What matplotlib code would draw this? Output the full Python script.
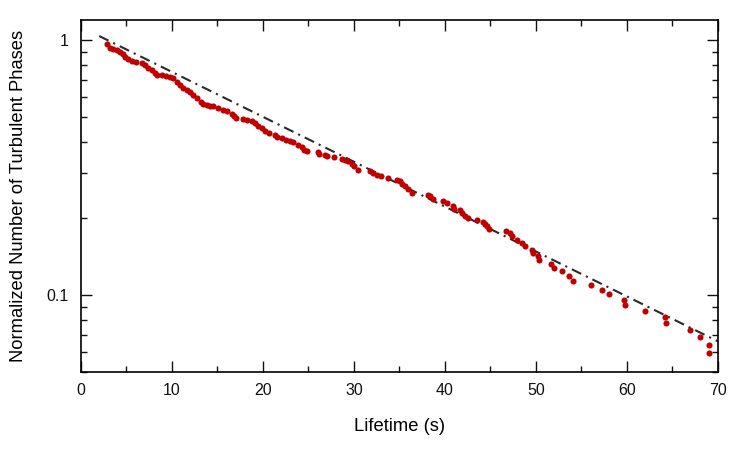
import matplotlib
matplotlib.use("Agg")
import matplotlib.pyplot as plt
import numpy as np
from matplotlib.ticker import LogLocator, FixedLocator, NullFormatter, FuncFormatter

plt.rcParams['font.family'] = ['Liberation Sans', 'DejaVu Sans']

# lifetimes (s) and normalized number of turbulent phases
lifetime = [2.82, 3.19, 3.55, 3.92, 4.29, 4.65, 4.84, 5.20, 5.57, 6.01,
            6.67, 7.03, 7.40, 7.77, 8.13, 8.32, 8.87, 9.31, 9.78, 10.14,
            10.52, 10.88, 11.24, 11.62, 11.98, 12.34, 12.71, 13.19, 13.44, 13.81,
            14.18, 14.54, 15.09, 15.64, 16.01, 16.56, 16.85, 17.00, 17.84, 18.21,
            18.76, 19.12, 19.48, 19.86, 20.22, 20.66, 21.32, 21.51, 22.05, 22.49,
            22.97, 23.33, 23.81, 24.25, 24.54, 24.80, 26.08, 26.15, 26.81, 27.00,
            27.84, 28.65, 29.01, 29.37, 29.75, 30.03, 30.47, 31.76, 32.12, 32.49,
            32.97, 33.77, 34.69, 35.05, 35.31, 35.60, 35.97, 36.34, 38.16, 38.35,
            38.71, 39.75, 40.25, 40.91, 40.99, 41.65, 41.84, 42.20, 42.56, 43.48,
            44.14, 44.40, 44.65, 44.87, 46.70, 47.14, 47.33, 47.88, 48.43, 48.79,
            49.53, 49.70, 50.25, 50.36, 51.65, 51.98, 52.89, 53.66, 54.10, 56.04,
            57.25, 58.05, 59.67, 59.78, 62.05, 64.25, 64.30, 66.92, 68.02, 69.04,
            69.05]
fraction = [0.962, 0.928, 0.922, 0.914, 0.900, 0.879, 0.861, 0.843, 0.828, 0.818,
            0.811, 0.799, 0.779, 0.763, 0.741, 0.730, 0.727, 0.723, 0.719, 0.709,
            0.687, 0.667, 0.651, 0.638, 0.625, 0.610, 0.592, 0.574, 0.561, 0.557,
            0.552, 0.549, 0.541, 0.533, 0.525, 0.514, 0.502, 0.494, 0.490, 0.484,
            0.480, 0.473, 0.461, 0.452, 0.442, 0.434, 0.425, 0.417, 0.413, 0.407,
            0.401, 0.397, 0.389, 0.381, 0.372, 0.368, 0.363, 0.359, 0.355, 0.352,
            0.348, 0.343, 0.340, 0.335, 0.328, 0.320, 0.311, 0.306, 0.301, 0.297,
            0.292, 0.288, 0.284, 0.280, 0.274, 0.267, 0.261, 0.252, 0.248, 0.244,
            0.239, 0.234, 0.229, 0.223, 0.218, 0.215, 0.210, 0.205, 0.201, 0.197,
            0.193, 0.191, 0.187, 0.182, 0.178, 0.175, 0.170, 0.164, 0.161, 0.156,
            0.151, 0.147, 0.142, 0.137, 0.133, 0.128, 0.124, 0.119, 0.114, 0.110,
            0.105, 0.101, 0.0958, 0.0914, 0.0868, 0.0823, 0.0777, 0.0732, 0.0687, 0.0638,
            0.0594]

# exponential fit  N(t) = A exp(-t / tau)
fit_amp = 1.124
fit_tau = 24.7
fit_range = [2.0, 70.0]

fig = plt.figure(figsize=(7.5, 4.5), dpi=100)
ax = fig.add_axes([0.108, 0.173, 0.849, 0.783])

t_fit = np.linspace(fit_range[0], fit_range[1], 200)
ax.plot(t_fit, fit_amp * np.exp(-t_fit / fit_tau), color='#2a2a2a', lw=1.5,
        dashes=(5, 2.5, 1, 2.5))
ax.plot(lifetime, fraction, 'o', color='#c00000', ms=4.4, mew=0)

ax.set_yscale('log')
ax.set_xlim(0, 70)
ax.set_ylim(0.05, 1.2)

ax.xaxis.set_major_locator(FixedLocator(range(0, 71, 10)))
ax.xaxis.set_minor_locator(FixedLocator(range(5, 70, 10)))
ax.yaxis.set_major_locator(FixedLocator([0.1, 1]))
ax.yaxis.set_major_formatter(FuncFormatter(lambda v, p: '1' if v >= 1 else '0.1'))
ax.yaxis.set_minor_locator(LogLocator(base=10, subs=np.arange(2, 10)))
ax.yaxis.set_minor_formatter(NullFormatter())

ax.tick_params(which='both', direction='in', top=True, right=True, width=1.0,
               labelsize=11.5, colors='#111111')
ax.tick_params(axis='x', pad=8)
ax.tick_params(axis='y', pad=9)
ax.tick_params(which='major', length=8)
ax.tick_params(which='minor', length=4)
for s in ax.spines.values():
    s.set_linewidth(1.2)

ax.set_xlabel('Lifetime (s)', fontsize=13.2, labelpad=14)
ax.set_ylabel('Normalized Number of Turbulent Phases', fontsize=13.2, labelpad=14)

fig.savefig('out.png', dpi=100)
